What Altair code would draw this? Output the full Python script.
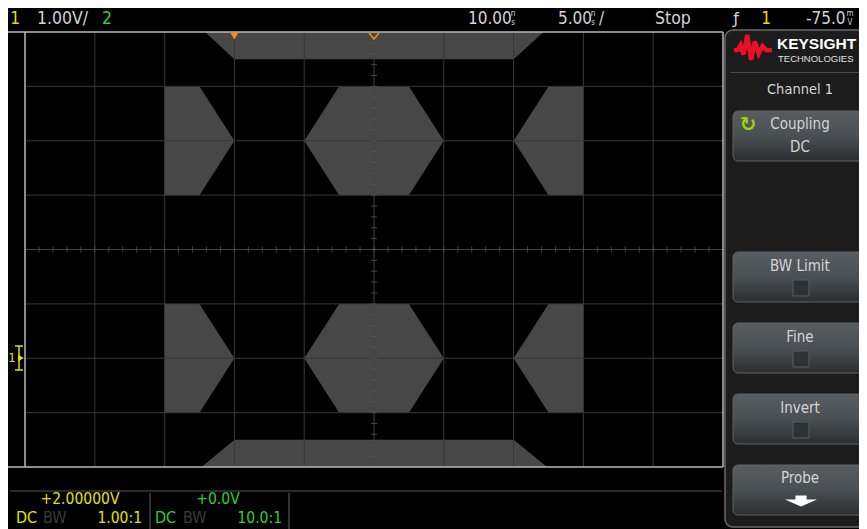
import altair as alt
import pandas as pd

# ---------------- data (graticule divisions: x 0..10, y -4..4) ----------------
mask_region = (["top"] * 4 + ["upL"] * 3 + ["upC"] * 4 + ["upR"] * 3 +
               ["loL"] * 3 + ["loC"] * 4 + ["loR"] * 3 + ["bot"] * 4)
mask_x = [2.58, 3, 7, 7.43,
          2, 2.5, 3,
          4, 4.5, 5.5, 6,
          7, 7.5, 8,
          2, 2.5, 3,
          4, 4.5, 5.5, 6,
          7, 7.5, 8,
          2.53, 3, 7, 7.48]
mask_hi = [4, 4, 4, 4,
           3, 3, 2,
           2, 3, 3, 2,
           2, 3, 3,
           -1, -1, -2,
           -2, -1, -1, -2,
           -2, -1, -1,
           -4, -3.5, -3.5, -4]
mask_lo = [4, 3.5, 3.5, 4,
           1, 1, 2,
           2, 1, 1, 2,
           2, 1, 1,
           -3, -3, -2,
           -2, -3, -3, -2,
           -2, -3, -3,
           -4, -4, -4, -4]

grid_x = [1, 2, 3, 4, 6, 7, 8, 9]
grid_y = [-3, -2, -1, 1, 2, 3]
minor_y = [round(-4 + 0.2 * k, 1) for k in range(1, 40)]
minor_x = [round(0.2 * k, 1) for k in range(1, 50)]
trig_pos = [3]
center_mark = [5]

status_vdiv = "1.00V/"
status_delay = "10.00"
status_tdiv = "5.00"
status_run = "Stop"
status_level = "-75.0"
ch1_offset = "+2.00000V"
ch2_offset = "+0.0V"
ch1_probe = "1.00:1"
ch2_probe = "10.0:1"
softkeys = ["BW Limit", "Fine", "Invert"]

# ---------------- styling ----------------
FONT = "Liberation Sans Narrow, DejaVu Sans Condensed, Roboto Condensed, Liberation Sans, sans-serif"
GRAY_TXT = "#d4d4d4"
YEL = "#e2e200"
GRN = "#30d030"
MASK = "#474747"
GRID = "#383838"

W, H = 698, 435
OX, OY = 25, 32  # absolute pixel of plot origin (page incl. margin)

xs = alt.Scale(domain=[0, 10], nice=False, zero=False)
ys = alt.Scale(domain=[-4, 4], nice=False, zero=False)


def one():
    return pd.DataFrame({"k": [0]})


def label(text, x, y, color=GRAY_TXT, size=17, align="left", weight="normal", font=FONT):
    return alt.Chart(pd.DataFrame({"t": [text]})).mark_text(
        align=align, baseline="middle", color=color, fontSize=size, font=font,
        fontWeight=weight).encode(text="t:N", x=alt.value(x - OX), y=alt.value(y - OY))


def box(x1, x2, y1, y2, **kw):
    return alt.Chart(one()).mark_rect(**kw).encode(
        x=alt.value(x1 - OX), x2=alt.value(x2 - OX), y=alt.value(y1 - OY), y2=alt.value(y2 - OY))


def hline(x1, x2, y, color, w=1.0):
    return alt.Chart(one()).mark_rule(color=color, strokeWidth=w).encode(
        x=alt.value(x1 - OX), x2=alt.value(x2 - OX), y=alt.value(y - OY))


def vline(x, y1, y2, color, w=1.0):
    return alt.Chart(one()).mark_rule(color=color, strokeWidth=w).encode(
        x=alt.value(x - OX), y=alt.value(y1 - OY), y2=alt.value(y2 - OY))


def symbol(shape, x, y, size, **kw):
    return alt.Chart(one()).mark_point(shape=shape, size=size, **kw).encode(
        x=alt.value(x - OX), y=alt.value(y - OY))


layers = []

# mask
mask_df = pd.DataFrame({"region": mask_region, "x": mask_x, "hi": mask_hi, "lo": mask_lo})
layers.append(alt.Chart(mask_df).mark_area(color=MASK, opacity=1, interpolate="linear").encode(
    x=alt.X("x:Q", scale=xs, axis=None),
    y=alt.Y("hi:Q", scale=ys, axis=None, stack=None),
    y2="lo:Q",
    detail="region:N"))

# graticule
layers.append(alt.Chart(pd.DataFrame({"x": grid_x})).mark_rule(color=GRID, strokeWidth=1).encode(
    x=alt.X("x:Q", scale=xs, axis=None)))
layers.append(alt.Chart(pd.DataFrame({"y": grid_y})).mark_rule(color=GRID, strokeWidth=1).encode(
    y=alt.Y("y:Q", scale=ys, axis=None)))
layers.append(alt.Chart(pd.DataFrame({"x": center_mark})).mark_rule(color="#424242", strokeWidth=1).encode(
    x=alt.X("x:Q", scale=xs, axis=None)))
layers.append(alt.Chart(pd.DataFrame({"y": [0]})).mark_rule(color="#424242", strokeWidth=1).encode(
    y=alt.Y("y:Q", scale=ys, axis=None)))
layers.append(alt.Chart(pd.DataFrame({"x": [5] * len(minor_y), "y": minor_y})).mark_tick(
    orient="horizontal", size=6, thickness=1, color="#5a5a5a").encode(
    x=alt.X("x:Q", scale=xs, axis=None), y=alt.Y("y:Q", scale=ys, axis=None)))
layers.append(alt.Chart(pd.DataFrame({"x": minor_x, "y": [0] * len(minor_x)})).mark_tick(
    orient="vertical", size=6, thickness=1, color="#5a5a5a").encode(
    x=alt.X("x:Q", scale=xs, axis=None), y=alt.Y("y:Q", scale=ys, axis=None)))

# borders
BORDER = "#b8b8b8"
layers.append(hline(8, 723, 32, BORDER, 1.5))
layers.append(hline(8, 723, 467, BORDER, 1.5))
layers.append(vline(25, 32, 467, BORDER, 1.5))
layers.append(vline(723, 32, 467, BORDER, 1.5))

# trigger / center markers
layers.append(alt.Chart(pd.DataFrame({"x": trig_pos})).mark_point(
    shape="triangle-down", filled=True, size=70, color="#ff8a00", opacity=1).encode(
    x=alt.X("x:Q", scale=xs, axis=None), y=alt.value(36 - OY)))
layers.append(alt.Chart(pd.DataFrame({"x": center_mark})).mark_point(
    shape="M-1,-0.6 L0,0.6 L1,-0.6", filled=False, size=100, color="#ff8a00",
    strokeWidth=1.5, opacity=1).encode(
    x=alt.X("x:Q", scale=xs, axis=None), y=alt.value(36 - OY)))

# ground marker (ch1) on the left
layers.append(label("1", 12, 358, YEL, 13, "center"))
layers.append(symbol("triangle-right", 21, 358, 45, filled=True, color=YEL, opacity=1))
layers.append(vline(19, 346, 370, YEL, 1.5))
layers.append(hline(15, 23, 346, YEL, 1.5))
layers.append(hline(15, 23, 370, YEL, 1.5))

# ---------- status bar ----------
layers.append(label("1", 15, 19, YEL, 17, "center"))
layers.append(label(status_vdiv, 37, 19, GRAY_TXT, 17.5))
layers.append(label("2", 107, 19, GRN, 17.5, "center"))
layers.append(label(status_delay, 468, 19, GRAY_TXT, 17))
layers.append(label("n", 513, 14, GRAY_TXT, 8, "center"))
layers.append(label("s", 513, 23, GRAY_TXT, 8, "center"))
layers.append(label(status_tdiv, 558, 19, GRAY_TXT, 17))
layers.append(label("n", 593, 14, GRAY_TXT, 8, "center"))
layers.append(label("s", 593, 23, GRAY_TXT, 8, "center"))
layers.append(label("/", 599, 19, GRAY_TXT, 17))
layers.append(label(status_run, 655, 19, GRAY_TXT, 17.5))
layers.append(label("ƒ", 736, 19, GRAY_TXT, 16, "center", font="DejaVu Sans"))
layers.append(label("1", 766, 19, YEL, 17, "center"))
layers.append(label(status_level, 806, 19, GRAY_TXT, 17))
layers.append(label("m", 850, 14, GRAY_TXT, 8, "center"))
layers.append(label("V", 850, 23, GRAY_TXT, 8, "center"))

# ---------- bottom channel info ----------
layers.append(hline(10, 722, 491, "#555555", 1.2))
layers.append(vline(150, 493, 529, "#555555", 1.2))
layers.append(vline(289, 493, 529, "#555555", 1.2))
layers.append(label(ch1_offset, 80, 499, YEL, 15.5, "center"))
layers.append(label("DC", 16, 518, YEL, 16))
layers.append(label("BW", 43, 518, "#3a3a3a", 16))
layers.append(label(ch1_probe, 142, 518, YEL, 15.5, "right"))
layers.append(label(ch2_offset, 218, 499, GRN, 15.5, "center"))
layers.append(label("DC", 155, 518, GRN, 16))
layers.append(label("BW", 183, 518, "#3a3a3a", 16))
layers.append(label(ch2_probe, 282, 518, GRN, 15.5, "right"))

# ---------- right soft-key panel ----------
layers.append(box(725, 885, 30, 527, fill="#1c1c1c", stroke="#6a6a6a", strokeWidth=1.5, cornerRadius=8))
layers.append(symbol("M-1,0.12 L-0.8,0.1 L-0.65,-0.15 L-0.5,0.35 L-0.3,-0.68 L-0.1,0.62 L0.1,-0.35 L0.3,0.3 L0.5,-0.1 L0.7,0.12 L1,0.1",
                     753, 48, 1450, filled=False, color="#e8102a", strokeWidth=4.5, opacity=1))
layers.append(label("KEYSIGHT", 777, 44, "#ffffff", 15.5, weight="bold", font="Liberation Sans, Arial, sans-serif"))
layers.append(label("TECHNOLOGIES", 778, 59, "#e0e0e0", 9.5, font="Liberation Sans, Arial, sans-serif"))
layers.append(hline(730, 867, 72.5, "#4a4a4a", 1.2))
layers.append(label("Channel 1", 800, 90, GRAY_TXT, 14.5, "center"))

BTN = alt.LinearGradient(gradient="linear", x1=0, y1=0, x2=0, y2=1, stops=[
    alt.GradientStop(offset=0, color="#585d61"),
    alt.GradientStop(offset=0.5, color="#4a4f53"),
    alt.GradientStop(offset=1, color="#2b2e31")])

# Coupling
layers.append(box(733, 885, 111, 161, fill=BTN, stroke="#5e6266", strokeWidth=1, cornerRadius=5))
layers.append(label("↻", 748, 125, "#9ad600", 20, "center", weight="bold", font="DejaVu Sans"))
layers.append(label("Coupling", 800, 124, GRAY_TXT, 15, "center"))
layers.append(label("DC", 800, 147, GRAY_TXT, 15, "center"))

# check-box soft keys
for name, top in zip(softkeys, [252, 323, 394]):
    layers.append(box(733, 885, top, top + 50, fill=BTN, stroke="#5e6266", strokeWidth=1, cornerRadius=5))
    layers.append(label(name, 800, top + 14, GRAY_TXT, 15, "center"))
    layers.append(box(793, 809, top + 28, top + 44, fill="#2f3235", stroke="#5a5a5a", strokeWidth=1))

# Probe
layers.append(box(733, 885, 465, 515, fill=BTN, stroke="#5e6266", strokeWidth=1, cornerRadius=5))
layers.append(label("Probe", 800, 478, GRAY_TXT, 15, "center"))
layers.append(symbol("M-0.35,-0.35 L0.35,-0.35 L0.35,-0.1 L1,-0.1 L0,0.35 L-1,-0.1 L-0.35,-0.1 Z",
                     801, 501, 1024, filled=True, color="#ffffff", opacity=1))

# total svg width 17 + 698 + 136 = 851 (fits the page without being shrunk)
chart = alt.layer(*layers).properties(
    width=W, height=H,
    padding={"left": 17, "top": 24, "right": 136, "bottom": 62},
    autosize=alt.AutoSizeParams(type="none"),
    background="black",
).configure_view(stroke=None, fill="black")

chart.save("out.html", embed_options={"renderer": "svg", "actions": False})
